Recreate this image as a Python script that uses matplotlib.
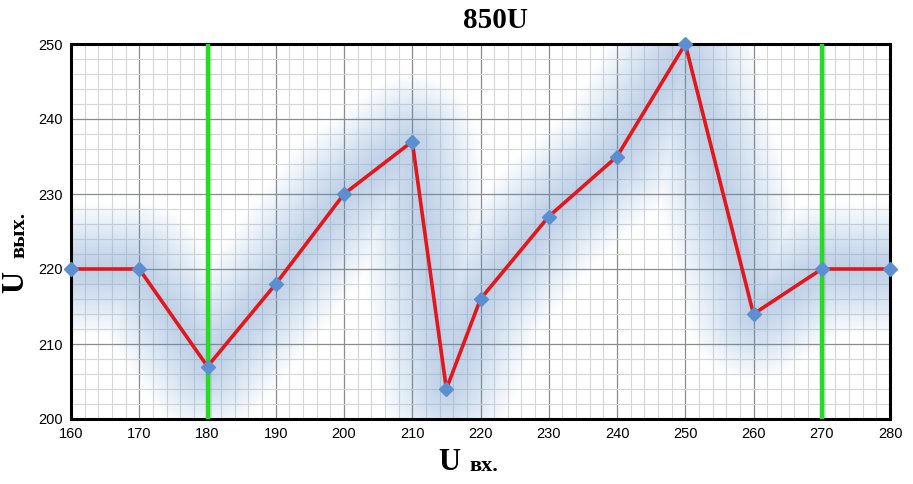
import matplotlib
matplotlib.use("Agg")
import matplotlib.pyplot as plt
import numpy as np
from matplotlib.ticker import MultipleLocator

u_in = [160, 170, 180, 190, 200, 210, 215, 220, 230, 240, 250, 260, 270, 280]
u_out = [220, 220, 207, 218, 230, 237, 204, 216, 227, 235, 250, 214, 220, 220]
limits = [180, 270]
title = "850U"

fig = plt.figure(figsize=(9.13, 4.84), dpi=100)
ax = fig.add_axes([71/913, 1-419/484, (890-71)/913, (419-44)/484])
ax.set_xlim(160, 280)
ax.set_ylim(200, 250)
ax.xaxis.set_major_locator(MultipleLocator(10))
ax.yaxis.set_major_locator(MultipleLocator(10))
ax.xaxis.set_minor_locator(MultipleLocator(2))
ax.yaxis.set_minor_locator(MultipleLocator(2))
ax.grid(which='major', color='#8c8c8c', linewidth=0.9)
ax.grid(which='minor', color='#d6d6d6', linewidth=0.8)
ax.set_axisbelow(True)
ax.tick_params(which='both', length=0, labelsize=10.5, pad=6)
for lab in ax.get_xticklabels() + ax.get_yticklabels():
    lab.set_fontfamily('Liberation Sans')
for s in ax.spines.values():
    s.set_linewidth(2.2)
    s.set_color('black')

# soft blue glow around the line
for w in np.linspace(95, 6, 24):
    ax.plot(u_in, u_out, color='#6fa3d8', linewidth=w, alpha=0.018,
            solid_capstyle='round', solid_joinstyle='round', zorder=1, clip_on=True)

for x in limits:
    ax.axvline(x + 0.25, color='#999999', linewidth=4, alpha=0.35, zorder=2)
    ax.axvline(x, color='#22dd22', linewidth=3.2, zorder=3)

ax.plot(u_in, u_out, color='#e3161b', linewidth=2.6, zorder=4, clip_on=False)
ax.plot(u_in, u_out, linestyle='none', marker='D', markersize=7,
        color='#5b8fd0', zorder=5, clip_on=False)

fig.text(495/913, 1-20/484, title, ha='center', va='center', fontsize=21,
         fontweight='bold', family='Liberation Serif')
fig.text(449/913, 1-463/484, "U", ha='center', va='center', fontsize=22,
         fontweight='bold', family='Liberation Serif')
fig.text(484/913, 1-466/484, "вх.", ha='center', va='center', fontsize=16,
         fontweight='bold', family='Liberation Serif')
fig.text(16/913, 1-282/484, "U", ha='center', va='center', fontsize=22,
         fontweight='bold', family='Liberation Serif', rotation=90)
fig.text(19/913, 1-235/484, "вых.", ha='center', va='center', fontsize=16,
         fontweight='bold', family='Liberation Serif', rotation=90)

fig.savefig("out.png", dpi=100)
